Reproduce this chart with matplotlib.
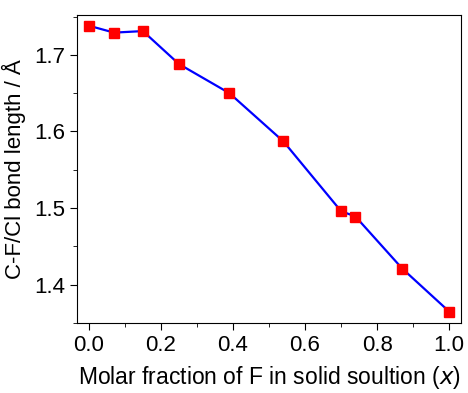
import matplotlib
matplotlib.use('Agg')

import matplotlib.pyplot as plt
from matplotlib.ticker import MultipleLocator

# C-F/Cl bond length vs molar fraction of F
x_frac = [0.0, 0.07, 0.15, 0.25, 0.39, 0.54, 0.70, 0.74, 0.87, 1.0]
bond_len = [1.738, 1.729, 1.731, 1.688, 1.650, 1.587, 1.496, 1.489, 1.421, 1.365]

plt.rcParams['font.family'] = ['Liberation Sans', 'DejaVu Sans']

fig = plt.figure(figsize=(4.68, 3.93), dpi=100)
ax = fig.add_axes([77/468, 70/393, 384/468, 308/393])

ax.plot(x_frac, bond_len, color='blue', linewidth=1.6, marker='s',
        markersize=7.5, markerfacecolor='red', markeredgecolor='red')

ax.set_xlim(-0.033, 1.033)
ax.set_ylim(1.35, 1.752)
ax.xaxis.set_major_locator(MultipleLocator(0.2))
ax.xaxis.set_minor_locator(MultipleLocator(0.1))
ax.yaxis.set_major_locator(MultipleLocator(0.1))
ax.yaxis.set_minor_locator(MultipleLocator(0.05))
ax.tick_params(which='both', direction='out', labelsize=16)
ax.tick_params(which='major', length=5)
ax.tick_params(which='minor', length=3)
ax.xaxis.set_major_formatter(plt.FormatStrFormatter('%.1f'))
ax.yaxis.set_major_formatter(plt.FormatStrFormatter('%.1f'))

ax.set_xlabel('Molar fraction of F in solid soultion ($\\it{x}$)', fontsize=16.5, labelpad=6)
ax.set_ylabel('C-F/Cl bond length / Å', fontsize=16, labelpad=6)

fig.savefig('out.png', dpi=100)
